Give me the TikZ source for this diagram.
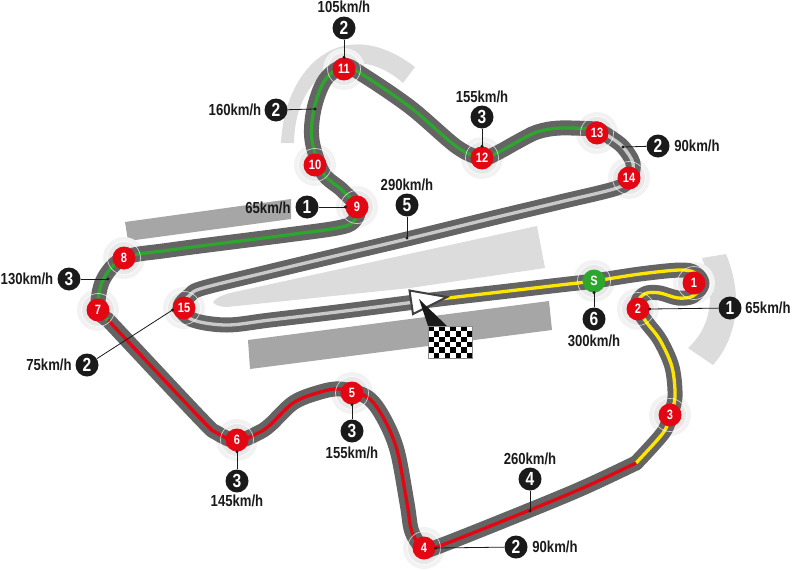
\documentclass[tikz,border=0pt]{standalone}
\usepackage{fontspec}
\setmainfont{Liberation Sans}[FakeStretch=0.82,BoldFont=*-Bold]
\definecolor{trk}{HTML}{646464}
\definecolor{grn}{HTML}{2EA52E}
\definecolor{rd}{HTML}{E30613}
\definecolor{yl}{HTML}{FFE600}
\definecolor{lgt}{HTML}{C9C9C9}
\definecolor{zone}{HTML}{DCDCDC}
\definecolor{bar}{HTML}{A6A6A6}
\definecolor{blk}{HTML}{1A1A1A}
\newcommand{\segA}{(415,302) (448,298) (500,292) (560,285) (594,281) (640,274) (680,270) (695,273) (702,284) (693,296) (678,298) (660,293) (647,293) (639,299) (638,309) (647,323) (660,340) (672,367) (675,397) (670,416) (663,433) (636,463)}
\newcommand{\segB}{(636,463) (585,487) (530,510) (437,547) (424,549) (412,532) (407,503) (397,450) (383,417) (367,397) (340,389) (317,393) (293,403) (270,425) (258,433) (237,441) (217,433) (200,418) (108,320)}
\newcommand{\segC}{(108,320) (98,309) (103,280) (124,258) (170,250) (287,235) (337,228) (353,222) (358,208) (342,190) (323,173) (312,140) (314,109) (325,80) (344,66) (360,73) (410,107) (457,147) (482,158) (497,153) (517,142) (537,132) (560,128) (597,129)}
\newcommand{\segD}{(597,129) (610,137) (623,147) (633,163) (630,178) (617,188) (560,202) (493,218) (407,239) (337,255.5) (270,271.5) (203,288) (190,295) (180,307) (193,320) (227,325) (270,320) (337,312) (415,302)}
\tikzset{
 trackbase/.style={draw=trk,line width=15pt,line cap=round,line join=round},
 trackline/.style={line width=3.3pt,line cap=butt,line join=round},
 turn/.style={circle,fill=rd,text=white,font=\bfseries\fontsize{13.5}{13.5}\selectfont,inner sep=0pt,minimum size=23pt},
 badge/.style={circle,fill=blk,text=white,font=\bfseries\fontsize{19}{19}\selectfont,inner sep=0pt,minimum size=23pt},
 speed/.style={text=blk,font=\bfseries\fontsize{16}{16}\selectfont,inner sep=0pt},
 lead/.style={draw=blk,line width=0.8pt},
}
\begin{document}
\begin{tikzpicture}[x=1pt,y=-1pt]
\useasboundingbox (0,0) rectangle (800,570);
% background shapes
\fill[bar] (125,222) -- (291,199) -- (291,219) -- (128,241) -- cycle;
\fill[bar] (248,340) -- (549,301) -- (552,330) -- (250,369) -- cycle;
\fill[zone] (213,302) .. controls (216,298) and (222,295) .. (230,293) -- (537,226) -- (545,268) -- (410,288) -- (227,307) .. controls (220,307) and (215,305) .. (213,302) -- cycle;
\fill[zone] (281,143) .. controls (284,70) and (340,10) .. (415,67) -- (403,83) .. controls (355,40) and (295,70) .. (294,143) -- cycle;
\fill[zone] (702,258) -- (726,254) .. controls (745,300) and (735,340) .. (713,365) -- (688,348) .. controls (708,330) and (718,300) .. (702,258) -- cycle;
% turn positions
\coordinate (pS) at (594,281);\coordinate (p1) at (694,283);\coordinate (p2) at (638,309);
\coordinate (p3) at (670,415);\coordinate (p4) at (424,548);\coordinate (p5) at (352,393);
\coordinate (p6) at (237,440);\coordinate (p7) at (98,310);\coordinate (p8) at (124,258);
\coordinate (p9) at (357,207);\coordinate (p10) at (315,165);\coordinate (p11) at (344,69);
\coordinate (p12) at (482,158);\coordinate (p13) at (597,133);\coordinate (p14) at (629,178);
\coordinate (p15) at (184,308);
% halos
\foreach \p in {pS,p1,p2,p3,p4,p5,p6,p7,p8,p9,p10,p11,p12,p13,p14,p15}{
 \fill[black!5] (\p) circle (21);
 \fill[black!9] (\p) circle (16);
}
% track
\draw[trackbase] plot[smooth,tension=0.55] coordinates {\segA};
\draw[trackbase] plot[smooth,tension=0.55] coordinates {\segB};
\draw[trackbase] plot[smooth,tension=0.55] coordinates {\segC};
\draw[trackbase] plot[smooth,tension=0.55] coordinates {\segD};
\draw[trackline,yl] plot[smooth,tension=0.55] coordinates {\segA};
\draw[trackline,rd] plot[smooth,tension=0.55] coordinates {\segB};
\draw[trackline,grn] plot[smooth,tension=0.55] coordinates {\segC};
\draw[trackline,lgt] plot[smooth,tension=0.55] coordinates {\segD};
% rings
\foreach \p in {pS,p1,p2,p3,p4,p5,p6,p7,p8,p9,p10,p11,p12,p13,p14,p15}{
 \draw[white,opacity=.7,line width=0.7pt] (\p) circle (16.5);
}
% start marker
\coordinate (flagL) at (428,326);\coordinate (flagR) at (447,326);
\draw[draw=black!75,fill=white,line width=2pt,line join=miter] (409.5,290.5) -- (447,297) -- (413,314) -- cycle;
\fill[blk] (419,299) -- (flagR) -- (flagL) -- cycle;
\fill[white] (428,326) rectangle (472,358);
\foreach \c in {0,...,7}{\foreach \r in {0,...,5}{
 \pgfmathparse{int(mod(\c+\r,2))}
 \ifnum\pgfmathresult=0\relax
  \fill[black] ({428+\c*5.5},{326+\r*5.33}) rectangle ++(5.5,5.33);
 \fi}}
\draw[black!45,line width=0.6pt] (428,326) rectangle (472,358);
% turn markers
\node[turn,fill=grn] (tS) at (pS) {S};
\foreach \n in {1,...,15}{\node[turn] (t\n) at (p\n) {\n};}
% free ends
\coordinate (e160) at (315,109);
\coordinate (e90) at (623,147);
\coordinate (e290) at (407,238);
\coordinate (e130) at (108,279);
\coordinate (e260) at (530,511);
% badges and speeds
\node[speed] (s11) at (344,7) {105km/h};
\node[badge] (b11) at (344,28) {2};
\node[speed] (s160) at (235,110) {160km/h};
\node[badge] (b160) at (276,110) {2};
\node[speed] (s12) at (482,97) {155km/h};
\node[badge] (b12) at (482,117) {3};
\node[speed] (s90) at (697,146) {90km/h};
\node[badge] (b90) at (658,146) {2};
\node[speed] (s290) at (407,185) {290km/h};
\node[badge] (b290) at (407,205) {5};
\node[speed] (s9) at (268,208) {65km/h};
\node[badge] (b9) at (307,207) {1};
\node[speed] (s130) at (27,279) {130km/h};
\node[badge] (b130) at (69,279) {3};
\node[speed] (s15) at (49,365) {75km/h};
\node[badge] (b15) at (87,365) {2};
\node[speed] (sS) at (594,341) {300km/h};
\node[badge] (bS) at (594,319) {6};
\node[speed] (s2) at (768,308) {65km/h};
\node[badge] (b2) at (730,308) {1};
\node[speed] (s5) at (352,453) {155km/h};
\node[badge] (b5) at (352,431) {3};
\node[speed] (s6) at (237,501) {145km/h};
\node[badge] (b6) at (237,481) {3};
\node[speed] (s260) at (530,459) {260km/h};
\node[badge] (b260) at (530,479) {4};
\node[speed] (s4) at (555,547) {90km/h};
\node[badge] (b4) at (516,547) {2};
% leaders
\draw[lead] (b11) -- (t11);\draw[lead] (b12) -- (t12);\draw[lead] (bS) -- (tS);
\draw[lead] (b5) -- (t5);\draw[lead] (b6) -- (t6);
\draw[lead] (b160) -- (e160);\fill[blk] (e160) circle (1.7);
\draw[lead] (b90) -- (e90);\fill[blk] (e90) circle (1.7);
\draw[lead] (b290) -- (e290);\fill[blk] (e290) circle (1.7);
\draw[lead] (b130) -- (e130);\fill[blk] (e130) circle (1.7);
\draw[lead] (b260) -- (e260);\fill[blk] (e260) circle (1.7);
\draw[lead] (b9) -- (t9.west);\fill[blk] (t9.west) circle (1.7);
\draw[lead] (b15) -- (t15.190);\fill[blk] (t15.190) circle (1.7);
\draw[lead] (b2) -- (t2.east);\fill[blk] (t2.east) circle (1.7);
\draw[lead] (b4) -- (t4.east);\fill[blk] (t4.east) circle (1.7);
\fill[blk] (t11.north) circle (1.7);\fill[blk] (t12.north) circle (1.7);
\fill[blk] (tS.south) circle (1.7);\fill[blk] (t5.south) circle (1.7);\fill[blk] (t6.south) circle (1.7);
\end{tikzpicture}
\end{document}
